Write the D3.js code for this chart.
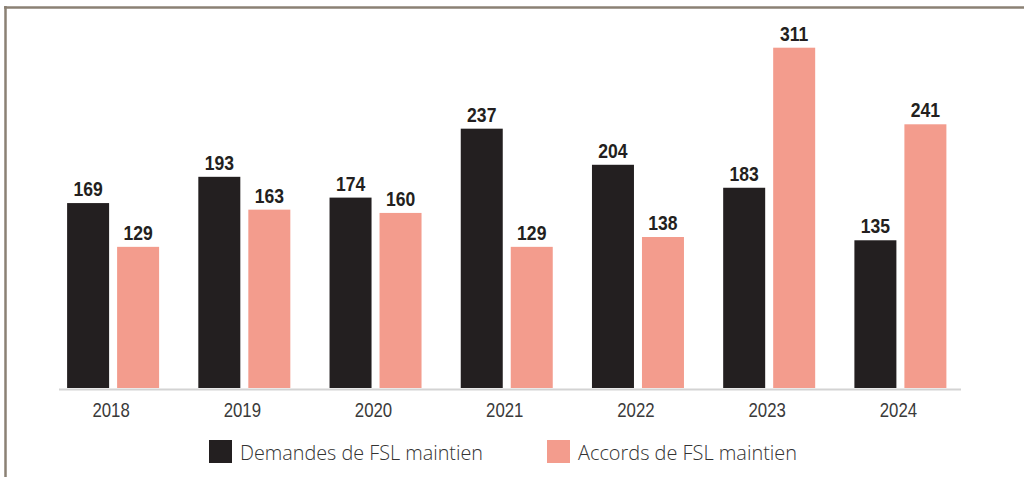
<!DOCTYPE html>
<html><head><meta charset="utf-8">
<script src="https://cdn.jsdelivr.net/npm/d3@7"></script>
<style>
html,body{margin:0;padding:0;background:#fff;}
svg{display:block;}
</style></head>
<body>
<svg id="chart" width="1024" height="477"></svg>
<script>
const years = ["2018","2019","2020","2021","2022","2023","2024"];
const demandes = [169,193,174,237,204,183,135];
const accords = [129,163,160,129,138,311,241];
const seriesNames = ["Demandes de FSL maintien","Accords de FSL maintien"];
const colors = ["#231f20","#f39c8d"];

const svg = d3.select("#chart");
// frame
svg.append("line").attr("x1",4).attr("x2",1024).attr("y1",7.5).attr("y2",7.5).attr("stroke","#8b8174").attr("stroke-width",2.5);
svg.append("line").attr("x1",5.5).attr("x2",5.5).attr("y1",6).attr("y2",477).attr("stroke","#8b8174").attr("stroke-width",2.5);

const x = d3.scaleBand().domain(years).range([47.5, 966]).paddingInner(0).paddingOuter(0);
const y = d3.scaleLinear().domain([0, 311]).range([388, 47.7]);
const barW = 42, gap = 4;

const groups = svg.append("g").selectAll("g").data(years).join("g")
  .attr("transform", d => `translate(${x(d) + x.bandwidth()/2},0)`);

[demandes, accords].forEach((vals, si) => {
  const off = si === 0 ? -gap - barW : gap;
  groups.append("rect")
    .attr("x", off).attr("width", barW)
    .attr("y", (d,i) => y(vals[i]))
    .attr("height", (d,i) => y(0) - y(vals[i]))
    .attr("fill", colors[si]);
  groups.append("text")
    .attr("transform", (d,i) => `translate(${off + barW/2},${y(vals[i]) - 7}) scale(0.9,1)`)
    .attr("text-anchor","middle")
    .attr("font-family","'Liberation Sans Narrow','Arial Narrow',sans-serif")
    .attr("font-weight","bold")
    .attr("font-size",19.5)
    .attr("fill","#231f20")
    .text((d,i) => vals[i]);
});

// axis baseline
svg.append("line").attr("x1",59).attr("x2",961).attr("y1",389.5).attr("y2",389.5).attr("stroke","#d3d3d3").attr("stroke-width",2);

// year labels
const axis = d3.axisBottom(x).tickSize(0).tickPadding(0);
const ag = svg.append("g").attr("transform","translate(0,0)").call(axis);
ag.select(".domain").remove();
ag.selectAll(".tick text")
  .attr("y", null).attr("dy", null)
  .attr("transform","translate(-2,416.5) scale(0.82,1)")
  .attr("font-family","'Liberation Sans Narrow','Arial Narrow',sans-serif")
  .attr("font-size",20.5)
  .attr("fill","#3a3a3a");

// legend
const legendX = [209, 547];
const legendW = [243, 219];
seriesNames.forEach((n, i) => {
  svg.append("rect").attr("x", legendX[i]).attr("y", 440).attr("width", 23).attr("height", 23).attr("fill", colors[i]);
  svg.append("text").attr("x", legendX[i] + 31).attr("y", 460)
    .attr("font-family","'Open Sans', sans-serif").attr("font-weight",300)
    .attr("font-size",21).attr("fill","#333")
    .attr("textLength", legendW[i]).attr("lengthAdjust","spacingAndGlyphs")
    .text(n);
});
</script>
</body></html>
